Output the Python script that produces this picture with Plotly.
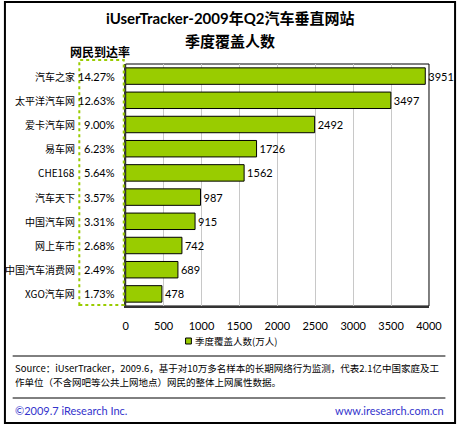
import plotly.graph_objects as go

# data
sites = ["汽车之家", "太平洋汽车网", "爱卡汽车网", "易车网", "CHE168",
         "汽车天下", "中国汽车网", "网上车市", "中国汽车消费网", "XGO汽车网"]
reach = ["14.27%", "12.63%", "9.00%", "6.23%", "5.64%",
         "3.57%", "3.31%", "2.68%", "2.49%", "1.73%"]
coverage = [3951, 3497, 2492, 1726, 1562, 987, 915, 742, 689, 478]
xticks = [0, 500, 1000, 1500, 2000, 2500, 3000, 3500, 4000]
series_name = "季度覆盖人数(万人)"

W, H = 470, 426
FONT = "Lato, Noto Sans CJK SC, sans-serif"
CJK = "Noto Sans CJK SC, sans-serif"
GREEN = "#99CC00"


def px_x(v):
    return v / W


def px_y(v):
    return 1 - v / H


fig = go.Figure()
fig.add_trace(go.Bar(
    x=coverage, y=sites, orientation="h",
    name=series_name,
    marker=dict(color=GREEN, line=dict(color="#000000", width=1)),
    width=0.68,
    text=coverage, textposition="outside",
    textfont=dict(size=11, color="#000000", family=FONT),
    cliponaxis=False,
))

annots = []
# category names + reach percentages on the left
for s, r in zip(sites, reach):
    annots.append(dict(x=px_x(77), xref="paper", y=s, yref="y", text=s,
                       xanchor="right", yanchor="middle", showarrow=False,
                       font=dict(size=10, family=CJK, color="#000000")))
    annots.append(dict(x=px_x(118), xref="paper", y=s, yref="y", text=r,
                       xanchor="right", yanchor="middle", showarrow=False,
                       font=dict(size=11, family=FONT, color="#000000")))


def txt(x, y, text, size, family, color="#000000", anchor="center"):
    return dict(x=px_x(x), y=px_y(y), xref="paper", yref="paper", text=text,
                xanchor=anchor, yanchor="middle", showarrow=False,
                font=dict(size=size, family=family, color=color))


annots += [
    txt(235, 18, "<b>iUserTracker-2009年Q2汽车垂直网站</b>", 15, FONT),
    txt(235, 41, "<b>季度覆盖人数</b>", 15, CJK),
    txt(100, 52, "<b>网民到达率</b>", 12, CJK),
    txt(197, 341, series_name, 9.5, CJK, anchor="left"),
    txt(10, 368, "Source：iUserTracker，2009.6，基于对10万多名样本的长期网络行为监测，代表2.1亿中国家庭及工",
        9.5, CJK, anchor="left"),
    txt(10, 382, "作单位（不含网吧等公共上网地点）网民的整体上网属性数据。", 9.5, CJK, anchor="left"),
    txt(10, 410, "©2009.7 iResearch Inc.", 11, FONT, "#3333CC", "left"),
    txt(459, 410, "www.iresearch.com.cn", 11, FONT, "#3333CC", "right"),
]

shapes = [
    # outer frame
    dict(type="rect", xref="paper", yref="paper",
         x0=px_x(2), x1=px_x(468), y0=px_y(423), y1=px_y(2),
         line=dict(color="#000000", width=2)),
    # plot frame
    dict(type="rect", xref="paper", yref="paper",
         x0=px_x(127), x1=px_x(441), y0=px_y(306), y1=px_y(64),
         line=dict(color="#000000", width=1), layer="below"),
    # dotted box around reach column
    dict(type="rect", xref="paper", yref="paper",
         x0=px_x(79), x1=px_x(125), y0=px_y(305), y1=px_y(60),
         line=dict(color=GREEN, width=2, dash="dot")),
    # legend swatch
    dict(type="rect", xref="paper", yref="paper",
         x0=px_x(189), x1=px_x(195), y0=px_y(344), y1=px_y(338),
         fillcolor=GREEN, line=dict(color="#000000", width=1)),
    # separators
    dict(type="line", xref="paper", yref="paper",
         x0=px_x(10), x1=px_x(458), y0=px_y(356), y1=px_y(356),
         line=dict(color="#000000", width=1)),
    dict(type="line", xref="paper", yref="paper",
         x0=px_x(10), x1=px_x(458), y0=px_y(398), y1=px_y(398),
         line=dict(color="#000000", width=1)),
]

fig.update_layout(
    width=W, height=H,
    margin=dict(l=0, r=0, t=0, b=0),
    paper_bgcolor="white", plot_bgcolor="white",
    showlegend=False,
    annotations=annots,
    shapes=shapes,
    bargap=0.3,
)
fig.update_xaxes(
    domain=[px_x(127), px_x(441)], range=[0, 4000],
    tickvals=xticks, showgrid=True, gridcolor="#C8C8C8", gridwidth=1,
    zeroline=False, showline=True, linecolor="#333333", linewidth=2,
    ticks="", ticklabelstandoff=9,
    tickfont=dict(size=11, family=FONT, color="#000000"),
)
fig.update_yaxes(
    domain=[px_y(306), px_y(64)], autorange="reversed",
    showticklabels=False, showgrid=False, zeroline=False,
    showline=True, linecolor="#333333", linewidth=2, ticks="",
)

# drop the default page margin / scrollbars so the figure fills the window
fig.write_html("out.html", config={"displayModeBar": False},
               post_script="document.body.style.margin='0';"
                           "document.body.style.overflow='hidden';"
                           "document.documentElement.style.overflow='hidden';")
